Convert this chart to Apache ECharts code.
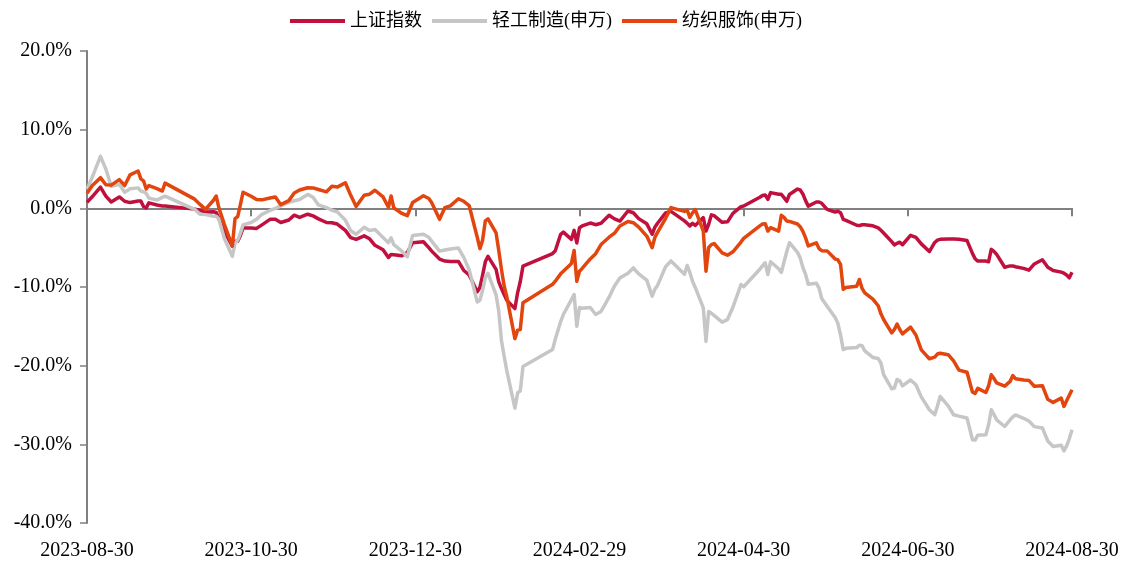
<!DOCTYPE html>
<html>
<head>
<meta charset="utf-8">
<script src="https://cdn.jsdelivr.net/npm/echarts@6/dist/echarts.min.js"></script>
<style>
  html, body { margin: 0; padding: 0; background: #fff; }
  #graph { width: 1130px; height: 563px; }
</style>
</head>
<body>
<div id="graph"></div>
<script>
// trading days (sampled) and cumulative change in %
const dates = [
  '2023-08-30','2023-09-01','2023-09-04','2023-09-06','2023-09-08','2023-09-11','2023-09-13','2023-09-15',
  '2023-09-18','2023-09-19','2023-09-20','2023-09-21','2023-09-22','2023-09-25','2023-09-27','2023-09-28',
  '2023-10-09','2023-10-11','2023-10-13','2023-10-16','2023-10-17','2023-10-18','2023-10-20','2023-10-23',
  '2023-10-24','2023-10-25','2023-10-26','2023-10-27','2023-10-30','2023-11-01','2023-11-03','2023-11-06',
  '2023-11-08','2023-11-10','2023-11-13','2023-11-15','2023-11-17','2023-11-20','2023-11-22','2023-11-24',
  '2023-11-27','2023-11-29','2023-12-01','2023-12-04','2023-12-06','2023-12-08','2023-12-11','2023-12-13',
  '2023-12-15','2023-12-18','2023-12-20','2023-12-21','2023-12-22','2023-12-25','2023-12-27','2023-12-29',
  '2024-01-02','2024-01-04','2024-01-05','2024-01-08','2024-01-10','2024-01-12','2024-01-15','2024-01-17',
  '2024-01-19','2024-01-22','2024-01-23','2024-01-24','2024-01-25','2024-01-26','2024-01-29','2024-01-30',
  '2024-01-31','2024-02-01','2024-02-02','2024-02-05','2024-02-06','2024-02-07','2024-02-08','2024-02-19',
  '2024-02-20','2024-02-22','2024-02-23','2024-02-26','2024-02-27','2024-02-28','2024-02-29','2024-03-01',
  '2024-03-04','2024-03-06','2024-03-08','2024-03-11','2024-03-13','2024-03-15','2024-03-18','2024-03-20',
  '2024-03-22','2024-03-25','2024-03-27','2024-03-28','2024-03-29','2024-04-01','2024-04-03','2024-04-08',
  '2024-04-09','2024-04-10','2024-04-11','2024-04-12','2024-04-15','2024-04-16','2024-04-17','2024-04-18',
  '2024-04-19','2024-04-22','2024-04-24','2024-04-26','2024-04-29','2024-04-30','2024-05-06','2024-05-07',
  '2024-05-08','2024-05-09','2024-05-10','2024-05-13','2024-05-14','2024-05-15','2024-05-16','2024-05-17',
  '2024-05-20','2024-05-21','2024-05-22','2024-05-23','2024-05-24','2024-05-27','2024-05-28','2024-05-29',
  '2024-05-31','2024-06-03','2024-06-04','2024-06-05','2024-06-06','2024-06-07','2024-06-11','2024-06-12',
  '2024-06-13','2024-06-14','2024-06-17','2024-06-19','2024-06-20','2024-06-21','2024-06-24','2024-06-25',
  '2024-06-26','2024-06-27','2024-06-28','2024-07-01','2024-07-03','2024-07-05','2024-07-08','2024-07-10',
  '2024-07-11','2024-07-12','2024-07-15','2024-07-17','2024-07-19','2024-07-22','2024-07-24','2024-07-25',
  '2024-07-26','2024-07-29','2024-07-30','2024-07-31','2024-08-01','2024-08-02','2024-08-05','2024-08-07',
  '2024-08-08','2024-08-09','2024-08-12','2024-08-14','2024-08-16','2024-08-19','2024-08-21','2024-08-23',
  '2024-08-26','2024-08-27','2024-08-28','2024-08-29','2024-08-30'
];

const shIndex = [
  0.76,1.5,2.7,1.55,0.8,1.45,0.9,0.73,
  0.93,0.93,0.23,0.05,0.7,0.42,0.3,0.3,
  -0.1,-0.25,-0.47,-0.43,-0.53,-1.3,-2.9,-4.8,
  -4.2,-4.2,-3.45,-2.5,-2.5,-2.55,-2.1,-1.4,
  -1.4,-1.8,-1.48,-0.87,-1.15,-0.75,-0.96,-1.34,
  -1.8,-1.83,-2.0,-2.8,-3.73,-3.95,-3.5,-3.87,
  -4.7,-5.26,-6.25,-5.86,-5.9,-6.04,-5.63,-4.37,
  -4.25,-5.0,-5.41,-6.45,-6.7,-6.75,-6.75,-7.9,
  -8.46,-10.6,-10.06,-8.48,-6.8,-6.1,-7.77,-9.35,
  -10.2,-10.95,-11.7,-12.74,-10.74,-9.3,-7.35,-5.75,
  -5.4,-3.3,-3.03,-3.95,-2.8,-4.4,-2.46,-2.24,
  -1.87,-2.08,-1.9,-0.88,-1.34,-1.62,-0.34,-0.56,
  -1.31,-1.97,-3.3,-2.4,-1.9,-0.57,-0.38,-1.59,
  -1.9,-2.23,-1.91,-2.18,-1.18,-2.89,-2.04,-0.83,
  -0.92,-1.78,-1.72,-0.64,0.22,0.29,1.4,1.63,
  1.69,1.15,2.0,1.78,1.78,1.36,0.89,1.76,
  2.45,2.34,1.82,0.98,0.28,0.8,0.81,0.64,
  -0.14,-0.48,-0.36,-0.55,-1.4,-1.54,-2.15,-2.2,
  -2.09,-2.1,-2.22,-2.48,-2.79,-3.13,-4.23,-4.65,
  -4.45,-4.3,-4.63,-3.43,-3.68,-4.52,-5.49,-4.34,
  -4.05,-3.94,-3.89,-3.89,-3.92,-4.1,-5.73,-6.41,
  -6.71,-6.71,-6.79,-5.22,-5.48,-5.86,-7.49,-7.32,
  -7.32,-7.43,-7.63,-7.86,-7.07,-6.54,-7.5,-7.9,
  -8.11,-8.25,-8.47,-8.83,-8.11
];

const lightIndustry = [
  2.42,4.0,6.6,5.0,2.8,3.05,2.05,2.5,
  2.6,2.2,2.1,1.9,1.3,1.05,1.4,1.55,
  -0.13,-0.76,-0.8,-1.0,-1.0,-1.35,-3.8,-6.1,
  -4.45,-4.05,-3.15,-2.1,-1.8,-1.4,-0.76,-0.27,
  0.0,0.32,0.75,0.96,1.13,1.77,1.4,0.43,
  0.08,-0.24,-0.45,-1.5,-2.85,-3.3,-2.4,-2.83,
  -2.7,-3.7,-4.37,-3.76,-4.62,-5.45,-6.15,-3.44,
  -3.3,-3.67,-4.14,-5.43,-5.3,-5.18,-5.05,-6.24,
  -7.8,-11.9,-11.66,-10.42,-8.8,-8.27,-11.0,-13.1,
  -16.8,-18.8,-20.66,-25.4,-23.47,-23.2,-20.1,-17.95,
  -16.65,-14.4,-13.5,-11.6,-10.95,-15.0,-12.6,-12.7,
  -12.6,-13.5,-13.1,-11.3,-9.86,-8.85,-8.24,-7.58,
  -8.33,-9.13,-11.17,-10.3,-9.8,-7.41,-6.69,-8.37,
  -7.26,-8.15,-9.27,-10.06,-12.65,-16.9,-13.1,-13.34,
  -13.6,-14.47,-14.14,-12.57,-9.68,-9.97,-7.75,-7.31,
  -6.92,-8.41,-6.79,-7.68,-8.15,-6.8,-5.52,-4.37,
  -5.6,-6.3,-7.52,-8.39,-9.66,-9.52,-10.13,-11.46,
  -12.46,-13.89,-14.62,-16.1,-17.96,-17.8,-17.7,-17.4,
  -17.45,-18.13,-18.96,-19.1,-19.66,-21.15,-22.93,-22.85,
  -21.76,-21.92,-22.56,-21.82,-22.42,-23.97,-25.6,-26.24,
  -25.12,-23.91,-25.1,-26.24,-26.42,-26.66,-29.41,-29.46,
  -28.84,-28.79,-27.52,-25.6,-26.19,-26.88,-27.73,-26.88,
  -26.52,-26.27,-26.69,-27.03,-27.75,-27.92,-29.58,-30.28,
  -30.11,-30.83,-30.19,-29.3,-28.15
];

const textile = [
  1.91,2.9,3.9,3.0,2.95,3.65,2.9,4.25,
  4.75,3.75,3.5,2.45,2.9,2.5,2.2,3.2,
  1.17,0.5,-0.13,1.03,1.57,0.06,-2.0,-4.8,
  -1.3,-1.05,0.48,2.05,1.53,1.13,1.08,1.32,
  1.45,0.47,0.98,1.95,2.33,2.62,2.6,2.4,
  2.1,2.8,2.7,3.25,1.65,0.22,1.67,1.8,
  2.3,1.45,0.13,1.57,0.06,-0.65,-0.94,0.74,
  1.6,1.25,0.76,-1.4,0.1,0.32,1.22,0.9,
  0.36,-3.67,-5.12,-4.04,-1.6,-1.34,-3.13,-5.35,
  -7.76,-9.87,-11.25,-16.56,-15.48,-15.4,-12.0,-9.66,
  -9.26,-8.33,-7.99,-7.0,-5.35,-9.27,-7.99,-7.64,
  -6.43,-5.77,-4.6,-3.67,-3.16,-2.25,-1.68,-1.83,
  -2.38,-3.53,-5.0,-3.7,-3.05,-1.27,0.09,-0.39,
  -0.23,-1.15,-0.57,-0.17,-2.89,-7.99,-4.97,-4.61,
  -4.47,-5.67,-5.96,-5.52,-4.29,-3.82,-2.23,-2.0,
  -1.95,-2.89,-2.46,-2.89,-0.89,-1.15,-1.62,-1.66,
  -1.99,-2.34,-2.93,-3.76,-4.78,-4.39,-5.12,-5.39,
  -5.41,-6.45,-6.54,-7.13,-10.3,-10.06,-9.9,-9.04,
  -10.18,-10.75,-11.53,-12.38,-13.41,-14.13,-15.83,-15.4,
  -14.71,-15.4,-15.96,-15.1,-16.1,-18.0,-19.12,-18.92,
  -18.52,-18.42,-18.6,-19.4,-20.57,-20.84,-23.34,-23.53,
  -22.89,-23.41,-22.59,-21.15,-21.63,-22.2,-22.6,-22.0,
  -21.26,-21.66,-21.83,-21.87,-22.62,-22.55,-24.28,-24.67,
  -24.11,-25.18,-24.46,-23.77,-23.06
];

const seriesNames = ['上证指数', '轻工制造(申万)', '纺织服饰(申万)'];
const seriesColors = ['#C0103D', '#C6C6C6', '#E2450E'];
const tickDates = ['2023-08-30', '2023-10-30', '2023-12-30', '2024-02-29', '2024-04-30', '2024-06-30', '2024-08-30'];

const toTime = d => new Date(d + 'T00:00:00').getTime();
const tickTimes = tickDates.map(toTime);
const xMin = tickTimes[0];
const xMax = tickTimes[tickTimes.length - 1];
const serifFont = '"Liberation Serif", "Times New Roman", serif';
const legendFont = '"Liberation Serif", "Noto Sans CJK SC", serif';

const makeSeries = (name, values, color) => ({
  name: name,
  type: 'line',
  xAxisIndex: 0,
  symbol: 'none',
  showSymbol: false,
  color: color,
  lineStyle: { width: 3.5, color: color, join: 'round' },
  data: dates.map((d, i) => [toTime(d), values[i]])
});

const option = {
  animation: false,
  backgroundColor: '#fff',
  color: seriesColors,
  legend: {
    left: 285,
    top: 7,
    icon: 'rect',
    itemWidth: 55,
    itemHeight: 4,
    itemGap: 10,
    textStyle: { fontFamily: legendFont, fontSize: 18, color: '#000' },
    data: seriesNames
  },
  grid: { left: 87, right: 58, top: 51, bottom: 40, outerBoundsMode: 'none' },
  xAxis: [
    {
      // line on y = 0 with the date ticks
      type: 'value',
      position: 'top',
      min: xMin,
      max: xMax,
      axisLine: { onZero: true, lineStyle: { color: '#808080', width: 2 } },
      axisTick: { show: true, inside: true, length: 8, customValues: tickTimes, lineStyle: { color: '#808080', width: 2 } },
      axisLabel: { show: false },
      splitLine: { show: false }
    },
    {
      // date labels under the plot
      type: 'value',
      position: 'bottom',
      min: xMin,
      max: xMax,
      axisLine: { show: false, onZero: false },
      axisTick: { show: false },
      axisLabel: {
        customValues: tickTimes,
        margin: 18,
        fontFamily: serifFont,
        fontSize: 20,
        color: '#000',
        formatter: v => echarts.time.format(v, '{yyyy}-{MM}-{dd}', false)
      },
      splitLine: { show: false }
    }
  ],
  yAxis: {
    type: 'value',
    min: -40,
    max: 20,
    interval: 10,
    axisLine: { show: true, lineStyle: { color: '#808080', width: 2 } },
    axisTick: { show: true, length: 7, lineStyle: { color: '#808080', width: 1.5 } },
    axisLabel: {
      margin: 15,
      fontFamily: serifFont,
      fontSize: 20,
      color: '#000',
      formatter: v => v.toFixed(1) + '%'
    },
    splitLine: { show: false }
  },
  series: [
    makeSeries(seriesNames[0], shIndex, seriesColors[0]),
    makeSeries(seriesNames[1], lightIndustry, seriesColors[1]),
    makeSeries(seriesNames[2], textile, seriesColors[2])
  ]
};

const chart = echarts.init(document.getElementById('graph'));
chart.setOption(option);
</script>
</body>
</html>
